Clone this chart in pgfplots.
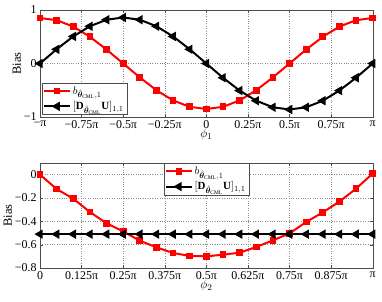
\documentclass[border=0pt]{standalone}
\usepackage{amsmath,bm}
\usepackage{fontspec}
\setmainfont{Liberation Serif}
\usepackage{pgfplots}
\pgfplotsset{compat=1.18}
\pgfplotstableread{
x r b
-1.0 0.85 0.00
-0.9 0.81 0.266
-0.8 0.69 0.506
-0.7 0.50 0.696
-0.6 0.26 0.818
-0.5 0.00 0.86
-0.4 -0.26 0.818
-0.3 -0.50 0.696
-0.2 -0.69 0.506
-0.1 -0.81 0.266
0.0 -0.85 0.00
0.1 -0.81 -0.266
0.2 -0.69 -0.506
0.3 -0.50 -0.696
0.4 -0.26 -0.818
0.5 0.00 -0.86
0.6 0.26 -0.818
0.7 0.50 -0.696
0.8 0.69 -0.506
0.9 0.81 -0.266
1.0 0.85 0.00
}\topdata
\pgfplotstableread{
x r b
0.00 0.00 -0.51
0.05 -0.123 -0.51
0.10 -0.206 -0.51
0.15 -0.32 -0.51
0.20 -0.417 -0.51
0.25 -0.486 -0.51
0.30 -0.566 -0.51
0.35 -0.623 -0.51
0.40 -0.671 -0.51
0.45 -0.697 -0.51
0.50 -0.70 -0.51
0.55 -0.686 -0.51
0.60 -0.669 -0.51
0.65 -0.62 -0.51
0.70 -0.563 -0.51
0.75 -0.503 -0.51
0.80 -0.406 -0.51
0.85 -0.323 -0.51
0.90 -0.231 -0.51
0.95 -0.12 -0.51
1.00 0.01 -0.51
}\botdata
\newcommand{\thcml}{\hat{\bm\theta}_{\scalebox{0.5}{CML}}}
\pgfplotsset{
  mystyle/.style={
    scale only axis,
    width=332.7bp,
    axis line style={draw=black!70},
    tick align=inside,
    tick style={draw=black!70},
    major tick length=3pt,
    grid=major,
    major grid style={dotted, draw=black!45},
    tick label style={font=\fontsize{12}{13}\selectfont, text=black},
    label style={font=\fontsize{12.5}{14}\selectfont},
    legend style={font=\fontsize{11}{13}\selectfont, draw=black!70, inner sep=1.5pt, row sep=2pt, legend cell align=left},
    legend image code/.code={
      \draw[mark repeat=2,mark phase=2,#1] plot coordinates {(0cm,0cm) (0.45cm,0cm) (0.9cm,0cm)};
    },
    xmin=-1, xmax=1,
    ylabel={Bias},
    ylabel style={yshift=-4pt},
  },
  redline/.style={red, line width=2pt, mark=square*, mark size=2.4pt, mark options={solid}},
  blackline/.style={black, line width=2pt, mark=triangle*, mark size=3.5pt, mark options={solid, rotate=90}},
}
\begin{document}
\begin{tikzpicture}
\useasboundingbox (-40bp,10bp) rectangle (342bp,-292bp);
\begin{axis}[mystyle,
  at={(0,0)}, anchor=north west,
  height=107bp,
  xmin=-1, xmax=1, ymin=-1, ymax=1,
  xtick={-1,-0.75,-0.5,-0.25,0,0.25,0.5,0.75,1},
  xticklabels={−π,−0.75π,−0.5π,−0.25π,0,0.25π,0.5π,0.75π,π},
  ytick={-1,0,1},
  yticklabels={−1,0,1},
  xlabel={$\phi_1$},
  xlabel style={yshift=6pt},
  legend style={at={(0.005,0.02)}, anchor=south west},
]
\addplot[redline] table[x=x,y=r] {\topdata};
\addlegendentry{$b_{\thcml,1}$}
\addplot[blackline] table[x=x,y=b] {\topdata};
\addlegendentry{$[\mathbf{D}_{\thcml}\mathbf{U}]_{1,1}$}
\end{axis}
\begin{axis}[mystyle,
  at={(0,-153bp)}, anchor=north west,
  height=105bp,
  xmin=0, xmax=1, ymin=-0.8, ymax=0.1,
  xtick={0,0.125,0.25,0.375,0.5,0.625,0.75,0.875,1},
  xticklabels={0,0.125π,0.25π,0.375π,0.5π,0.625π,0.75π,0.875π,π},
  ytick={-0.8,-0.6,-0.4,-0.2,0},
  yticklabels={−0.8,−0.6,−0.4,−0.2,0},
  xlabel={$\phi_2$},
  xlabel style={yshift=6pt},
  legend style={at={(0.5,1)}, anchor=north},
]
\addplot[redline] table[x=x,y=r] {\botdata};
\addlegendentry{$b_{\thcml,1}$}
\addplot[blackline] table[x=x,y=b] {\botdata};
\addlegendentry{$[\mathbf{D}_{\thcml}\mathbf{U}]_{1,1}$}
\end{axis}
\end{tikzpicture}
\end{document}
